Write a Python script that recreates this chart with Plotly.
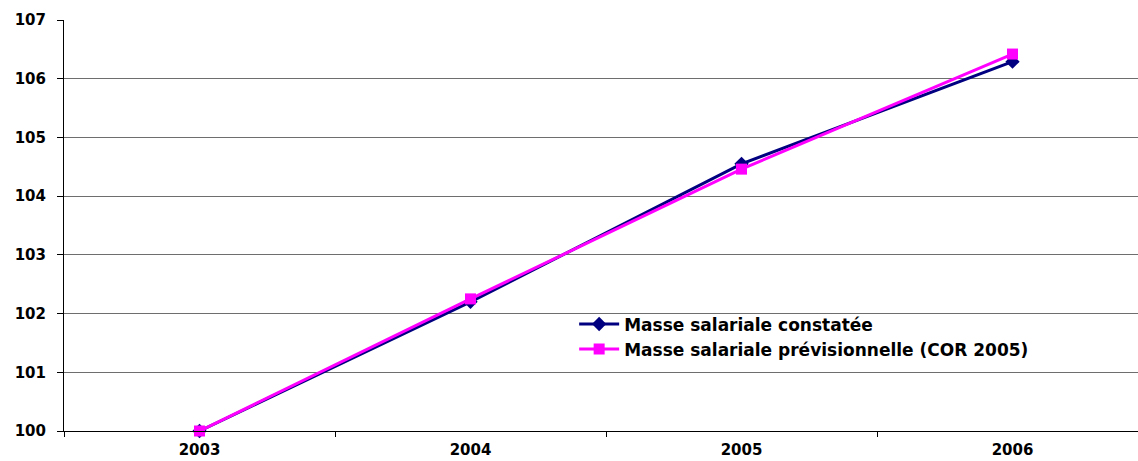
import plotly.graph_objects as go

years = ["2003", "2004", "2005", "2006"]
constatee = [100, 102.2, 104.55, 106.29]
previsionnelle = [100, 102.25, 104.46, 106.42]
name1 = "Masse salariale constatée"
name2 = "Masse salariale prévisionnelle (COR 2005)"

FONT = "DejaVu Sans"

fig = go.Figure()
fig.add_trace(go.Scatter(x=years, y=constatee, name=name1, mode="lines+markers",
                         line=dict(color="#000080", width=3), cliponaxis=False,
                         marker=dict(symbol="diamond", size=11, color="#000080")))
fig.add_trace(go.Scatter(x=years, y=previsionnelle, name=name2, mode="lines+markers",
                         line=dict(color="#FF00FF", width=3), cliponaxis=False,
                         marker=dict(symbol="square", size=11, color="#FF00FF")))

fig.update_layout(
    width=1138, height=461,
    margin=dict(l=64, r=0, t=20, b=30),
    paper_bgcolor="white", plot_bgcolor="white",
    font=dict(family=FONT, size=13, color="black", weight="bold"),
    legend=dict(x=0.475, y=0.303, xanchor="left", yanchor="top",
                font=dict(size=17, family=FONT, weight="bold", color="black"),
                bgcolor="rgba(0,0,0,0)", tracegroupgap=0, itemwidth=40),
    showlegend=True,
)
fig.update_xaxes(type="category", range=[-0.5, 3.463], tickson="boundaries",
                 ticks="outside", ticklen=5, tickcolor="black",
                 showline=True, linecolor="black", linewidth=1,
                 showgrid=False,
                 tickfont=dict(size=15, family=FONT, weight="bold", color="black"),
                 ticklabelstandoff=5)
fig.update_yaxes(range=[100, 107], dtick=1, ticks="outside", ticklen=6, tickcolor="black",
                 showline=True, linecolor="black", linewidth=1,
                 showgrid=True, gridcolor="#6e6e6e", gridwidth=1,
                 tickfont=dict(size=15, family=FONT, weight="bold", color="black"),
                 ticklabelstandoff=8, zeroline=False)

fig.write_html("out.html")
